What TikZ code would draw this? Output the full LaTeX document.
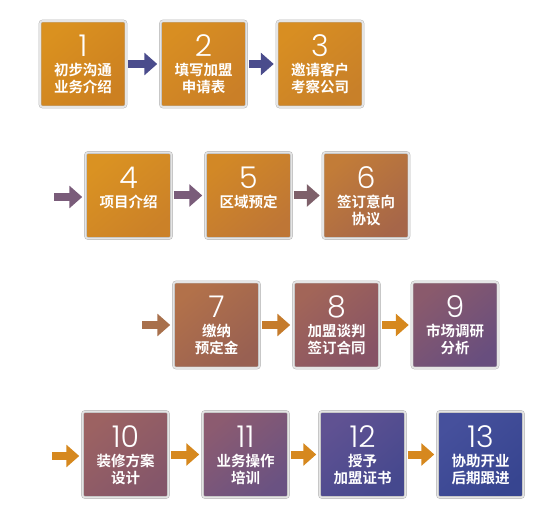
\documentclass[tikz,border=0pt]{standalone}
\usepackage{fontspec}
\newfontfamily\cjk{Noto Sans CJK SC}[BoldFont={Noto Sans CJK SC Bold}]
\newfontfamily\numfont{Poppins Light}
\usetikzlibrary{arrows.meta}
\begin{document}
\begin{tikzpicture}[x=1pt,y=-1pt,
  stepbox/.style={minimum width=86pt,minimum height=86pt,inner sep=0pt,rounded corners=2.5pt,
    draw=black!28,double=white!90!black,double distance=1.6pt,line width=0.5pt},
  numtxt/.style={text=white,font=\numfont\fontsize{30}{30}\selectfont,inner sep=0pt,
    anchor=base,text height=21pt,text depth=0pt},
  labtxt/.style={text=white,font=\cjk\bfseries\fontsize{14.5}{17}\selectfont,align=center,inner sep=0pt},
  flow/.style={-{Triangle[length=13pt,width=22pt]},line width=8pt,shorten <=2pt,shorten >=3pt}]
\useasboundingbox (0,0) rectangle (558,524);
\fill[white] (0,0) rectangle (558,524);
\newcommand\mkbox[8]{%
  \node[stepbox,top color=#4,bottom color=#5,shading angle=40] (#1) at (#2,#3) {};
  \node[numtxt] (#1n) at ([yshift=-36pt]#1.north) {#6};
  \node[labtxt,anchor=north] (#1t) at ([yshift=-42.5pt]#1.north) {#7\\#8};
}
\definecolor{c1a}{HTML}{DA911F}\definecolor{c1b}{HTML}{CC8021}
\definecolor{c2a}{HTML}{D88E22}\definecolor{c2b}{HTML}{CA7F27}
\definecolor{c3a}{HTML}{D88E22}\definecolor{c3b}{HTML}{C88029}
\definecolor{c4a}{HTML}{DA9222}\definecolor{c4b}{HTML}{CB8128}
\definecolor{c5a}{HTML}{D28826}\definecolor{c5b}{HTML}{BE7636}
\definecolor{c6a}{HTML}{C27C38}\definecolor{c6b}{HTML}{A66649}
\definecolor{c7a}{HTML}{B2714A}\definecolor{c7b}{HTML}{986052}
\definecolor{c8a}{HTML}{A26558}\definecolor{c8b}{HTML}{865366}
\definecolor{c9a}{HTML}{8A5A6C}\definecolor{c9b}{HTML}{684E7E}
\definecolor{c10a}{HTML}{9C6262}\definecolor{c10b}{HTML}{84566A}
\definecolor{c11a}{HTML}{8C5B70}\definecolor{c11b}{HTML}{6A5282}
\definecolor{c12a}{HTML}{605292}\definecolor{c12b}{HTML}{45488E}
\definecolor{c13a}{HTML}{46509C}\definecolor{c13b}{HTML}{374590}
\definecolor{arA}{HTML}{4A4C8C}
\definecolor{arB}{HTML}{7A5C7A}
\definecolor{arC}{HTML}{7E606A}
\definecolor{arD}{HTML}{A8704C}
\definecolor{arE}{HTML}{C57B2C}
\definecolor{arF}{HTML}{D6881E}
% row 1
\mkbox{b1}{83}{64}{c1a}{c1b}{1}{初步沟通}{业务介绍}
\mkbox{b2}{203.5}{64}{c2a}{c2b}{2}{填写加盟}{申请表}
\mkbox{b3}{320}{64}{c3a}{c3b}{3}{邀请客户}{考察公司}
% row 2
\mkbox{b4}{128.5}{195.5}{c4a}{c4b}{4}{项目介绍}{}
\mkbox{b5}{248.5}{195.5}{c5a}{c5b}{5}{区域预定}{}
\mkbox{b6}{366}{195.5}{c6a}{c6b}{6}{签订意向}{协议}
% row 3
\mkbox{b7}{216.5}{325}{c7a}{c7b}{7}{缴纳}{预定金}
\mkbox{b8}{336.5}{325}{c8a}{c8b}{8}{加盟谈判}{签订合同}
\mkbox{b9}{455}{325}{c9a}{c9b}{9}{市场调研}{分析}
% row 4
\mkbox{b10}{125.5}{454.5}{c10a}{c10b}{10}{装修方案}{设计}
\mkbox{b11}{245.5}{454.5}{c11a}{c11b}{11}{业务操作}{培训}
\mkbox{b12}{362.5}{454.5}{c12a}{c12b}{12}{授予}{加盟证书}
\mkbox{b13}{480.5}{454.5}{c13a}{c13b}{13}{协助开业}{后期跟进}
% free ends
\coordinate (s4) at (54,197);
\coordinate (s7) at (142,325);
\coordinate (s10) at (52,456);
% arrows
\draw[flow,arA] (b1) -- (b2);
\draw[flow,arA] (b2) -- (b3);
\draw[flow,arB,shorten <=0pt] (s4) -- (s4 -| b4.west);
\draw[flow,arB] (b4) -- (b5);
\draw[flow,arC] (b5) -- (b6);
\draw[flow,arD,shorten <=0pt] (s7) -- (s7 -| b7.west);
\draw[flow,arE] (b7) -- (b8);
\draw[flow,arF] (b8) -- (b9);
\draw[flow,arF,shorten <=0pt] (s10) -- (s10 -| b10.west);
\draw[flow,arF] (b10) -- (b11);
\draw[flow,arF] (b11) -- (b12);
\draw[flow,arF] (b12) -- (b13);
\end{tikzpicture}
\end{document}
